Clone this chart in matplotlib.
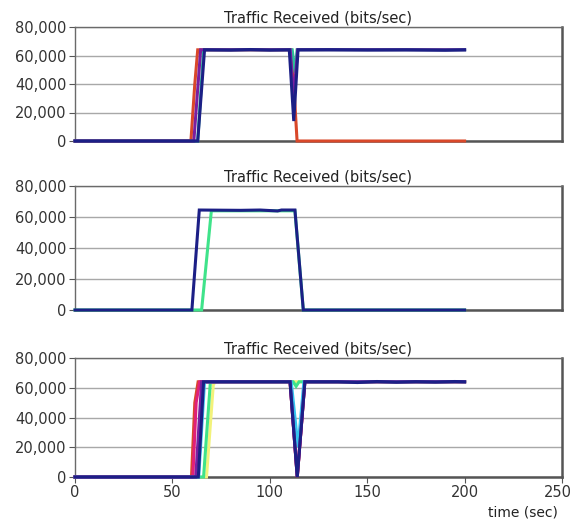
import matplotlib
matplotlib.use("Agg")
import matplotlib.pyplot as plt
import matplotlib.transforms as mtransforms
from matplotlib.ticker import FuncFormatter

plt.rcParams['font.family'] = ['DejaVu Sans']

TITLE = "Traffic Received (bits/sec)"
XLABEL = "time (sec)"
x_ticks = [0, 50, 100, 150, 200, 250]
y_ticks = [0, 20000, 40000, 60000, 80000]

# ---------------- Panel 1 ----------------
p1_red_t = [0, 59.5, 61.5, 63, 111, 112.5, 114, 200]
p1_red_v = [0, 0, 40000, 64000, 64000, 35000, 0, 0]
p1_teal_t = [0, 63, 66, 111.5, 113, 114, 200]
p1_teal_v = [0, 0, 64000, 64000, 48000, 64000, 64000]
p1_purple_t = [0, 61, 64.5, 110.5, 112.2, 114.3, 200]
p1_purple_v = [0, 0, 64000, 64000, 30000, 64000, 64000]
p1_navy_t = [0, 63, 66.5, 80, 90, 100, 110, 112.3, 114.5, 130, 150, 170, 190, 200]
p1_navy_v = [0, 0, 64000, 63800, 64200, 63800, 64000, 14000, 64000, 64100, 63900, 64000, 63700, 64000]

# ---------------- Panel 2 ----------------
p2_green_t = [0, 65, 70, 112.9, 117.2, 200]
p2_green_v = [0, 0, 64000, 64000, 0, 0]
p2_navy_t = [0, 60, 63.8, 85, 95, 104, 106, 112.9, 117.2, 200]
p2_navy_v = [0, 0, 64500, 64300, 64500, 63900, 64500, 64500, 0, 0]

# ---------------- Panel 3 ----------------
p3_red_t = [0, 59.8, 61.5, 63.2, 110.4, 114.1, 118, 200]
p3_red_v = [0, 0, 50000, 64000, 64000, 0, 64000, 64000]
p3_magenta_t = [0, 60.5, 62.2, 64, 110.4, 114.1, 118, 200]
p3_magenta_v = [0, 0, 50000, 64000, 64000, 0, 64000, 64000]
p3_yellow_t = [0, 67.5, 71, 72, 200]
p3_yellow_v = [0, 0, 62000, 64000, 64000]
p3_green_t = [0, 66, 69.5, 112, 113.5, 115, 200]
p3_green_v = [0, 0, 64000, 64000, 61000, 64000, 64000]
p3_cyan_t = [0, 63.5, 66.5, 111, 114.5, 117.5, 200]
p3_cyan_v = [0, 0, 64000, 64000, 20000, 64000, 64000]
p3_purple_t = [0, 62, 65, 110.4, 114.1, 118, 200]
p3_purple_v = [0, 0, 64000, 64000, 0, 64000, 64000]
p3_navy_t = [0, 63.3, 66, 90, 110.4, 114.1, 118, 135, 145, 155, 165, 175, 185, 195, 200]
p3_navy_v = [0, 0, 64000, 64000, 64000, 0, 64000, 64000, 63500, 64200, 63700, 64100, 63800, 64200, 64000]

NAVY = '#1c1f86'
RED = '#d9482a'
TEAL = '#2bbf9a'
PURPLE = '#7a1fa0'
GREEN = '#3fe38a'
MAGENTA = '#e0207a'
YELLOW = '#f2f27a'
CYAN = '#35c3ee'

W, H = 574, 521
fig = plt.figure(figsize=(W / 100, H / 100), dpi=100, facecolor='white')

def rect(top, bottom, left=75, right=562):
    return [left / W, 1 - bottom / H, (right - left) / W, (bottom - top) / H]

panels = [
    (rect(27, 141), [
        (p1_red_t, p1_red_v, RED),
        (p1_teal_t, p1_teal_v, TEAL),
        (p1_purple_t, p1_purple_v, PURPLE),
        (p1_navy_t, p1_navy_v, NAVY),
    ]),
    (rect(186, 310), [
        (p2_green_t, p2_green_v, GREEN),
        (p2_navy_t, p2_navy_v, NAVY),
    ]),
    (rect(358, 477), [
        (p3_yellow_t, p3_yellow_v, YELLOW),
        (p3_green_t, p3_green_v, GREEN),
        (p3_red_t, p3_red_v, RED),
        (p3_magenta_t, p3_magenta_v, MAGENTA),
        (p3_cyan_t, p3_cyan_v, CYAN),
        (p3_purple_t, p3_purple_v, PURPLE),
        (p3_navy_t, p3_navy_v, NAVY),
    ]),
]

fmt = FuncFormatter(lambda v, p: f"{int(v):,}")

for i, (r, series) in enumerate(panels):
    ax = fig.add_axes(r)
    ax.set_facecolor('white')
    for t, v, c in series:
        ax.plot(t, v, color=c, lw=2.2, solid_joinstyle='miter',
                zorder=3, clip_on=False)
    ax.set_xlim(0, 250)
    ax.set_ylim(0, 80000)
    ax.set_yticks(y_ticks)
    ax.yaxis.set_major_formatter(fmt)
    ax.yaxis.grid(True, color='#a8a8a8', lw=1.0)
    ax.set_axisbelow(True)
    for s in ['left', 'top']:
        ax.spines[s].set_color('#6a6a6a')
        ax.spines[s].set_linewidth(1.0)
    for s in ['right', 'bottom']:
        ax.spines[s].set_color('#555555')
        ax.spines[s].set_linewidth(1.8)
    ax.tick_params(axis='y', length=4, color='#555555', labelsize=10.5,
                   labelcolor='#333333', pad=2)
    ax.set_title(TITLE, fontsize=10.5, color='#222222', pad=3)
    if i < 2:
        ax.set_xticks([])
    else:
        ax.set_xticks(x_ticks)
        ax.tick_params(axis='x', length=4, color='#555555', labelsize=10.5,
                       labelcolor='#333333', pad=2)
        last = ax.get_xticklabels()[-1]
        last.set_horizontalalignment('right')
        last.set_transform(last.get_transform() +
                           mtransforms.ScaledTranslation(10 / 100, 0, fig.dpi_scale_trans))

fig.text(558 / W, 1 - 513 / H, XLABEL, ha='right', va='center',
         fontsize=10, color='#222222')

fig.savefig('out.png', dpi=100, facecolor='white')
